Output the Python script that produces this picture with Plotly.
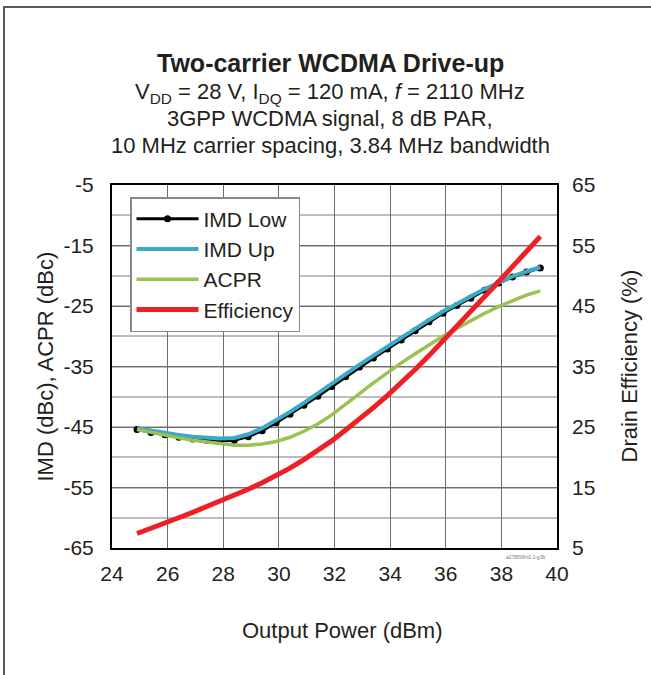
import plotly.graph_objects as go

# ---- data ----
pout = [24.9, 25.4, 25.9, 26.4, 26.9, 27.4, 27.9, 28.4, 28.9, 29.4,
        29.9, 30.4, 30.9, 31.4, 31.9, 32.4, 32.9, 33.4, 33.9, 34.4,
        34.9, 35.4, 35.9, 36.4, 36.9, 37.4, 37.9, 38.4, 38.9, 39.4]

imd_low = [-45.4, -45.9, -46.3, -46.7, -47.0, -47.2, -47.3, -47.2, -46.6, -45.6,
           -44.3, -42.9, -41.4, -39.9, -38.3, -36.7, -35.1, -33.6, -32.1, -30.6,
           -29.1, -27.6, -26.2, -24.9, -23.7, -22.4, -21.2, -20.2, -19.4, -18.7]

imd_up = [-45.2, -45.6, -46.0, -46.3, -46.6, -46.8, -46.9, -46.8, -46.2, -45.2,
          -43.9, -42.5, -41.0, -39.4, -37.8, -36.2, -34.7, -33.2, -31.7, -30.2,
          -28.8, -27.3, -25.9, -24.6, -23.4, -22.2, -21.1, -20.1, -19.3, -18.6]

acpr = [-45.4, -45.9, -46.4, -46.8, -47.2, -47.5, -47.8, -48.0, -48.0, -47.8,
        -47.4, -46.7, -45.7, -44.5, -43.0, -41.3, -39.5, -37.7, -36.0, -34.4,
        -32.9, -31.4, -30.0, -28.7, -27.4, -26.2, -25.1, -24.1, -23.2, -22.5]

efficiency = [7.4, 8.2, 9.1, 10.0, 10.9, 11.8, 12.7, 13.7, 14.7, 15.8,
              16.9, 18.2, 19.6, 21.1, 22.7, 24.5, 26.3, 28.2, 30.2, 32.3,
              34.5, 36.8, 39.2, 41.6, 44.0, 46.5, 49.0, 51.5, 54.0, 56.5]

x_ticks = [24, 26, 28, 30, 32, 34, 36, 38, 40]
y_left_ticks = [-5, -15, -25, -35, -45, -55, -65]
y_right_ticks = [65, 55, 45, 35, 25, 15, 5]

FONT = "Arial, 'Liberation Sans', Helvetica, sans-serif"

fig = go.Figure()
fig.add_trace(go.Scatter(x=pout, y=imd_low, name="IMD Low", mode="lines+markers",
                         line=dict(color="black", width=3),
                         marker=dict(color="black", size=7), legendgroup="a"))
fig.add_trace(go.Scatter(x=pout, y=imd_up, name="IMD Up", mode="lines",
                         line=dict(color="#3BAAC9", width=4), legendgroup="b"))
fig.add_trace(go.Scatter(x=pout, y=acpr, name="ACPR", mode="lines",
                         line=dict(color="#9BC053", width=3.5), legendgroup="c"))
fig.add_trace(go.Scatter(x=pout, y=efficiency, name="Efficiency", mode="lines",
                         line=dict(color="#EE2026", width=5), yaxis="y2", legendgroup="d"))

L, R, T, B = 112, 94, 185, 127
W, H = 651, 675
pw, ph = W - L - R, H - T - B

def px(xp):
    return (xp - L) / pw

def py(yp):
    return (H - B - yp) / ph

fig.update_layout(
    width=W, height=H,
    margin=dict(l=L, r=R, t=T, b=B, autoexpand=False),
    paper_bgcolor="white", plot_bgcolor="white",
    font=dict(family=FONT, color="#231F20", size=20),
    showlegend=True,
    legend=dict(x=px(130), y=py(197), xanchor="left", yanchor="top",
                bgcolor="white", bordercolor="#888888", borderwidth=1.5,
                font=dict(size=21, family=FONT, color="#231F20"),
                tracegroupgap=0, itemwidth=62),
    xaxis=dict(range=[24, 40], tickvals=x_ticks, ticktext=[str(v) for v in x_ticks],
               showgrid=True, gridcolor="#6d6d6d", gridwidth=1.2,
               showline=True, linecolor="black", linewidth=2, mirror=True,
               ticks="", ticklabelstandoff=6, zeroline=False, automargin=False,
               tickfont=dict(size=21)),
    yaxis=dict(range=[-65, -5], tickvals=y_left_ticks, ticktext=[str(v) for v in y_left_ticks],
               showgrid=True, gridcolor="#6d6d6d", gridwidth=1.2,
               minor=dict(dtick=5, tick0=-5, showgrid=True, gridcolor="#bdbdbd", gridwidth=1.5),
               showline=True, linecolor="black", linewidth=2, mirror=True,
               ticks="", ticklabelstandoff=12, zeroline=False, automargin=False,
               tickfont=dict(size=21)),
    yaxis2=dict(range=[5, 65], tickvals=y_right_ticks, ticktext=[str(v) for v in y_right_ticks],
                overlaying="y", side="right", showgrid=False, zeroline=False,
                ticks="", ticklabelstandoff=14, automargin=False, tickfont=dict(size=21)),
)

ann = []
cx = px(330)
ann.append(dict(text="<b>Two-carrier WCDMA Drive-up</b>", x=cx, y=py(63), font=dict(size=25)))
ann.append(dict(text="V<sub>DD</sub> = 28 V, I<sub>DQ</sub> = 120 mA, <i>f</i> = 2110 MHz",
                x=cx, y=py(93), font=dict(size=22)))
ann.append(dict(text="3GPP WCDMA signal, 8 dB PAR,", x=cx, y=py(119), font=dict(size=22)))
ann.append(dict(text="10 MHz carrier spacing, 3.84 MHz bandwidth", x=cx, y=py(145), font=dict(size=22)))
ann.append(dict(text="IMD (dBc), ACPR (dBc)", x=px(45), y=0.5, textangle=-90, font=dict(size=22)))
ann.append(dict(text="Drain Efficiency (%)", x=px(629), y=0.5, textangle=-90, font=dict(size=22)))
ann.append(dict(text="Output Power (dBm)", x=px(342), y=py(630), font=dict(size=22)))
ann.append(dict(text="a27850fm0.1-g3b", x=px(525), y=py(557), font=dict(size=5, color="#777777")))
for a in ann:
    a.update(xref="paper", yref="paper", showarrow=False, xanchor="center", yanchor="middle")
fig.update_layout(annotations=ann)

fig.add_shape(type="rect", xref="paper", yref="paper",
              x0=px(4), x1=px(W + 10), y0=py(H + 10), y1=py(7),
              line=dict(color="#5a5a5a", width=2), fillcolor="rgba(0,0,0,0)", layer="above")

fig.write_html("out.html", config={"displayModeBar": False},
               post_script="document.body.style.margin='0px';")
